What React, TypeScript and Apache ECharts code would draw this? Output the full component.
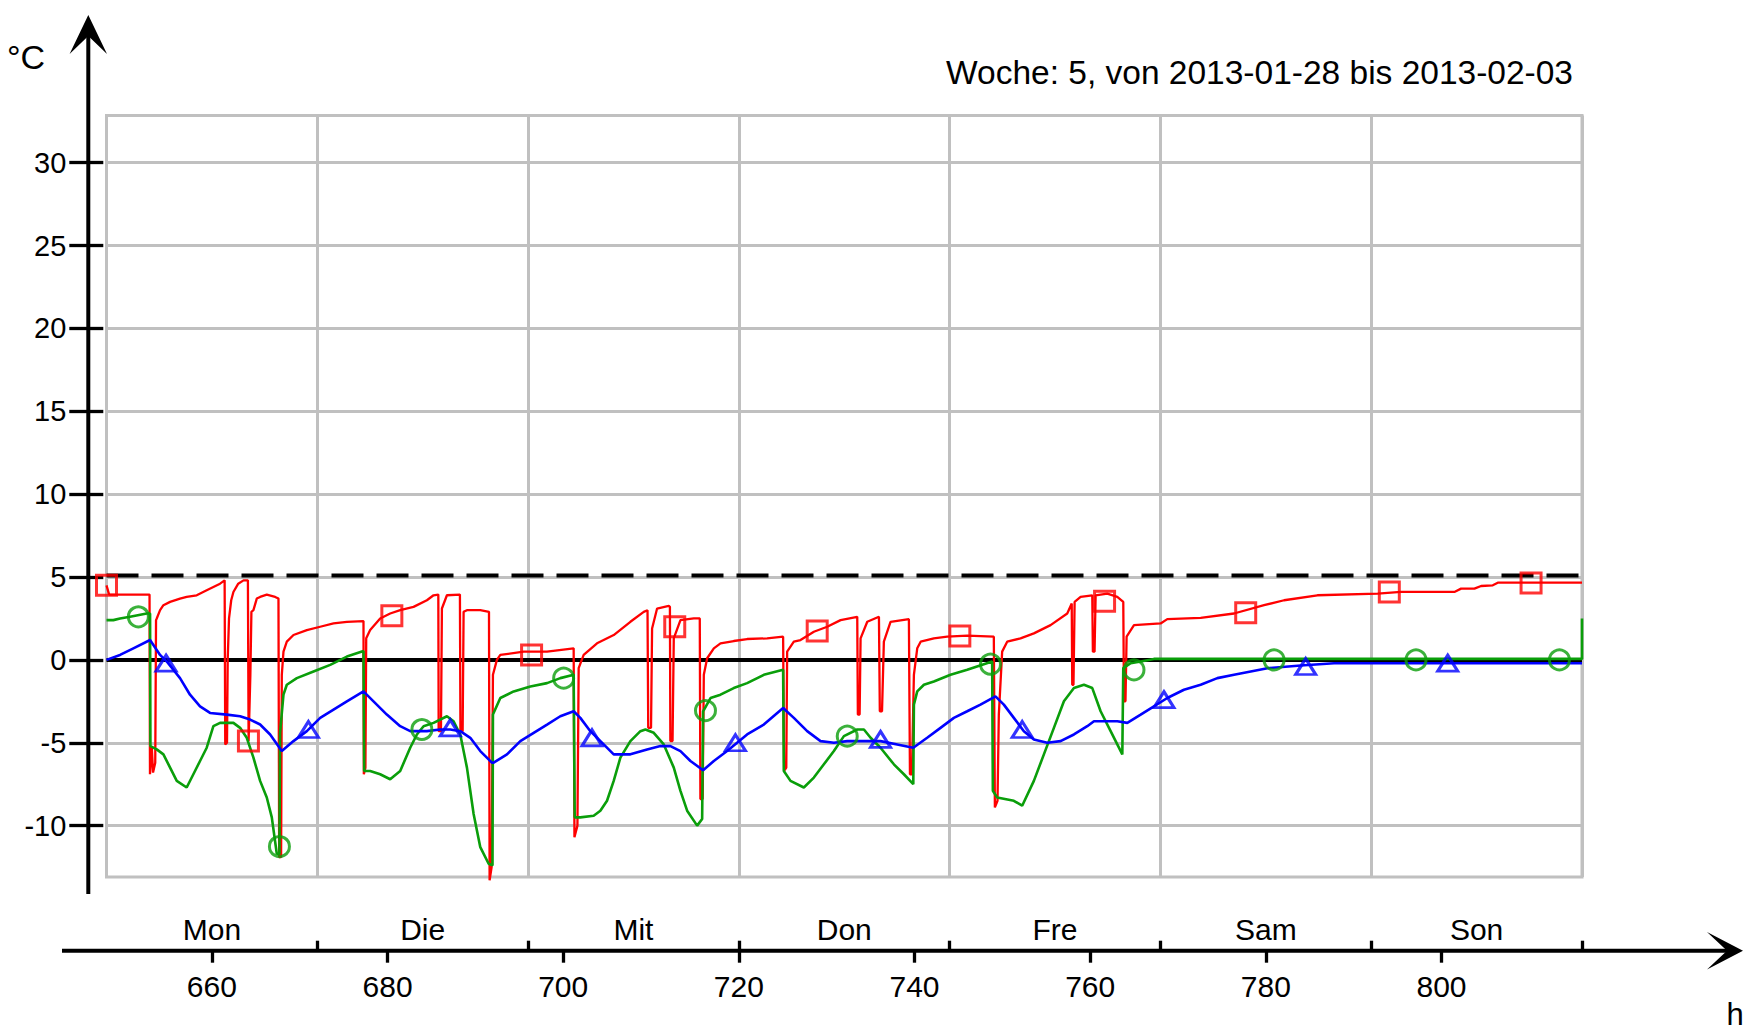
import React, { useEffect, useRef } from "react";
import * as echarts from "echarts";

const TITLE = "Woche: 5, von 2013-01-28 bis 2013-02-03";
const Y_UNIT = "°C";
const X_UNIT = "h";
const hourRange = [648, 816];
const tempMin = -13.1;
const tempMax = 32.85;
const tempTicks = [-10, -5, 0, 5, 10, 15, 20, 25, 30];
const hourTicks = [660, 680, 700, 720, 740, 760, 780, 800];
const dayBoundaries = [672, 696, 720, 744, 768, 792, 816];
const dayCenters = [660, 684, 708, 732, 756, 780, 804];
const dayNames = ["Mon", "Die", "Mit", "Don", "Fre", "Sam", "Son"];
const zeroLevel = 0;
const limitLevel = 5.1;

const redSeries: number[][] = [
  [648.0, 4.5], [648.3, 3.94], [652.9, 3.94], [652.95, -6.9], [653.15, -5.2], [653.3, -6.8], [653.55, -6.2],
  [653.64, 2.4], [653.72, 2.5], [654.1, 3.0], [654.48, 3.3], [655.24, 3.5], [656.37, 3.7], [657.13, 3.8],
  [658.27, 3.9], [659.41, 4.2], [660.17, 4.4], [660.93, 4.6], [661.45, 4.8], [661.52, -5.1], [661.72, -5.0],
  [661.8, 0.0], [661.95, 2.5], [662.2, 3.6], [662.45, 4.1], [663.0, 4.6], [663.6, 4.8], [664.1, 4.8],
  [664.18, -4.9], [664.38, -0.9], [664.5, 2.9], [664.73, 3.0], [665.11, 3.7], [665.49, 3.8], [666.25, 3.94],
  [667.2, 3.8], [667.58, 3.7], [667.66, -11.9], [667.88, -11.9], [667.96, -0.9], [668.15, 0.5], [668.53, 1.1],
  [669.29, 1.5], [670.81, 1.8], [672.33, 2.0], [673.85, 2.2], [675.37, 2.3], [677.26, 2.34], [677.3, -6.9],
  [677.48, -6.5], [677.57, 1.3], [678.02, 1.8], [679.16, 2.5], [680.3, 2.8], [681.44, 3.0], [682.96, 3.2],
  [684.48, 3.6], [685.24, 3.9], [685.78, 3.94], [685.82, -4.3], [686.08, -4.3], [686.19, 3.1], [686.76, 3.9],
  [688.24, 3.94], [688.3, -4.3], [688.55, -4.3], [688.66, 2.9], [689.04, 3.0], [690.56, 3.0], [691.55, 2.9],
  [691.62, -13.3], [691.85, -12.5], [692.0, -0.9], [692.45, 0.0], [692.84, 0.3], [695.5, 0.5], [698.16, 0.5],
  [701.19, 0.7], [701.28, -10.7], [701.62, -10.0], [701.76, -0.5], [702.33, 0.3], [703.85, 1.0], [705.75, 1.5],
  [707.65, 2.3], [709.17, 2.9], [709.6, 3.0], [709.68, -4.1], [710.0, -4.1], [710.12, 1.9], [710.69, 3.1],
  [712.02, 3.26], [712.15, 3.2], [712.2, -4.9], [712.45, -4.9], [712.59, 1.3], [713.35, 2.4], [714.87, 2.5],
  [715.55, 2.5], [715.62, -8.4], [715.88, -8.4], [716.01, -0.9], [716.39, 0.1], [717.15, 0.7], [717.91, 1.0],
  [719.42, 1.14], [720.94, 1.26], [723.22, 1.3], [725.04, 1.4], [725.15, -6.7], [725.4, -6.5], [725.5, 0.5],
  [726.26, 1.1], [727.02, 1.2], [728.54, 1.7], [730.06, 2.0], [731.58, 2.4], [733.48, 2.6], [733.55, -3.3],
  [733.75, -3.3], [733.86, 1.3], [734.62, 2.3], [735.95, 2.6], [736.05, -3.1], [736.3, -3.1], [736.51, 1.1],
  [737.27, 2.3], [739.36, 2.46], [739.48, -6.9], [739.7, -6.9], [739.93, -0.9], [740.31, 0.7], [740.7, 1.1],
  [742.2, 1.3], [743.72, 1.4], [746.0, 1.46], [749.03, 1.4], [749.15, -8.9], [749.45, -8.5], [749.6, -3.3],
  [749.98, 0.5], [750.55, 1.1], [752.07, 1.3], [753.59, 1.6], [755.49, 2.1], [757.39, 2.8], [757.9, 3.4],
  [757.96, -1.5], [758.1, -1.5], [758.23, 3.5], [758.91, 3.8], [760.24, 3.9], [760.31, 0.5], [760.5, 0.5],
  [760.62, 3.9], [761.95, 4.0], [763.09, 3.8], [763.77, 3.5], [763.85, -2.5], [764.02, -2.5], [764.15, 1.4],
  [764.99, 2.1], [768.02, 2.2], [768.78, 2.46], [772.58, 2.54], [776.38, 2.8], [779.8, 3.3], [782.08, 3.6],
  [785.87, 3.9], [792.74, 4.0], [795.39, 4.1], [801.47, 4.1], [802.23, 4.3], [803.75, 4.3], [804.51, 4.46],
  [805.84, 4.5], [806.41, 4.66], [816.0, 4.66],
];

const greenSeries: number[][] = [
  [648.0, 2.4], [648.78, 2.4], [649.54, 2.5], [650.68, 2.6], [652.58, 2.8], [652.96, 2.8], [653.0, -5.2],
  [653.72, -5.4], [654.48, -5.7], [655.24, -6.5], [656.0, -7.3], [657.13, -7.7], [657.89, -6.9], [658.65, -6.1],
  [659.41, -5.3], [660.17, -4.0], [660.93, -3.8], [662.45, -3.8], [663.21, -4.1], [663.97, -4.7], [664.73, -5.9],
  [665.49, -7.3], [666.25, -8.3], [666.82, -9.5], [667.39, -11.7], [667.69, -11.7], [667.76, -4.4], [668.15, -2.1],
  [668.53, -1.5], [669.67, -1.1], [671.57, -0.7], [673.47, -0.3], [675.37, 0.2], [677.26, 0.54], [677.34, -6.7],
  [678.02, -6.7], [679.16, -6.9], [680.3, -7.2], [681.44, -6.7], [682.58, -5.3], [683.34, -4.5], [684.1, -4.0],
  [685.24, -3.8], [686.76, -3.4], [687.52, -3.7], [688.28, -4.5], [689.04, -6.5], [689.8, -9.3], [690.56, -11.3],
  [691.51, -12.3], [691.95, -12.4], [692.0, -3.3], [692.84, -2.3], [694.36, -1.9], [696.26, -1.6], [698.16, -1.4],
  [699.67, -1.1], [701.19, -0.9], [701.31, -9.5], [701.95, -9.5], [703.47, -9.4], [704.23, -9.1], [704.99, -8.5],
  [705.75, -7.3], [706.51, -5.9], [707.65, -4.9], [708.79, -4.3], [709.36, -4.2], [710.31, -4.4], [711.45, -5.1],
  [712.59, -6.5], [713.35, -7.9], [714.11, -9.1], [715.25, -10.0], [715.82, -9.6], [715.93, -3.1], [716.77, -2.3],
  [717.91, -2.1], [719.42, -1.7], [720.94, -1.4], [722.84, -0.9], [725.04, -0.6], [725.12, -6.7], [725.88, -7.3],
  [727.4, -7.7], [728.54, -7.1], [729.68, -6.3], [730.82, -5.5], [731.96, -4.6], [733.48, -4.2], [734.24, -4.2],
  [735.0, -4.7], [736.13, -5.3], [737.65, -6.3], [738.79, -6.9], [739.86, -7.5], [739.93, -2.7], [740.31, -1.9],
  [741.07, -1.5], [742.2, -1.3], [744.1, -0.9], [746.0, -0.6], [747.89, -0.26], [748.84, -0.1], [748.92, -7.9],
  [749.41, -8.3], [751.31, -8.5], [752.26, -8.8], [753.59, -7.3], [754.73, -5.7], [755.87, -4.1], [757.01, -2.5],
  [758.15, -1.7], [759.29, -1.5], [760.24, -1.7], [761.19, -3.1], [762.33, -4.3], [763.66, -5.7], [763.77, -0.5],
  [764.61, -0.2], [765.75, -0.1], [767.26, 0.06], [816.0, 0.06], [816.0, 2.5],
];

const blueSeries: number[][] = [
  [648.0, 0.0], [649.54, 0.3], [651.06, 0.7], [652.96, 1.2], [654.1, 0.3], [654.86, -0.1], [656.37, -1.1],
  [657.51, -2.1], [658.65, -2.8], [659.79, -3.2], [661.69, -3.3], [663.21, -3.4], [664.35, -3.6], [665.49, -3.9],
  [666.63, -4.5], [667.96, -5.5], [669.29, -4.9], [670.81, -4.3], [672.33, -3.5], [673.85, -3.0], [675.37, -2.5],
  [677.26, -1.9], [678.4, -2.5], [679.92, -3.3], [681.44, -4.0], [682.58, -4.3], [684.48, -4.3], [686.0, -4.2],
  [687.14, -4.2], [688.28, -4.3], [689.42, -4.7], [690.56, -5.5], [691.88, -6.2], [692.08, -6.2], [693.6, -5.7],
  [695.12, -4.9], [696.64, -4.4], [698.16, -3.9], [699.67, -3.4], [701.19, -3.1], [701.95, -3.5], [703.09, -4.3],
  [704.61, -5.1], [705.75, -5.7], [707.65, -5.7], [709.55, -5.4], [711.07, -5.2], [712.21, -5.2], [713.35, -5.5],
  [714.49, -6.1], [715.93, -6.66], [717.15, -6.1], [718.66, -5.5], [720.94, -4.5], [722.84, -3.9], [725.04, -2.9],
  [726.26, -3.5], [727.78, -4.3], [729.3, -4.9], [730.82, -5.0], [732.34, -4.9], [736.13, -4.9], [738.03, -5.1],
  [739.86, -5.3], [741.44, -4.7], [742.96, -4.1], [744.48, -3.5], [746.0, -3.1], [747.51, -2.7], [749.22, -2.2],
  [750.17, -2.7], [751.31, -3.5], [752.45, -4.3], [753.59, -4.8], [755.11, -5.0], [756.63, -4.9], [758.15, -4.5],
  [759.67, -4.0], [760.43, -3.7], [763.09, -3.7], [764.23, -3.8], [765.75, -3.3], [767.26, -2.8], [768.78, -2.3],
  [770.68, -1.8], [772.58, -1.5], [774.48, -1.1], [776.38, -0.9], [778.28, -0.7], [780.18, -0.5], [783.98, -0.34],
  [787.77, -0.2], [816.0, -0.2],
];

const redMarkers: number[][] = [
  [648.0, 4.5], [664.16, -4.9], [680.49, 2.66], [696.4, 0.3], [712.7, 2.0], [728.92, 1.74],
  [745.16, 1.44], [761.64, 3.54], [777.71, 2.84], [794.06, 4.1], [810.2, 4.64],
];
const greenMarkers: number[][] = [
  [651.63, 2.6], [667.69, -11.26], [683.91, -4.2], [700.05, -1.1], [716.2, -3.06], [732.34, -4.6],
  [748.65, -0.26], [764.99, -0.6], [780.94, 0.0], [797.1, 0.0], [813.43, 0.0],
];
const blueMarkers: number[][] = [
  [654.78, -0.2], [670.99, -4.2], [687.14, -4.1], [703.28, -4.7], [719.61, -5.0], [736.13, -4.8],
  [752.26, -4.2], [768.4, -2.4], [784.54, -0.4], [800.71, -0.2],
];

const RED = "#ff0000";
const GREEN = "#0a9e0a";
const BLUE = "#0000ff";
const GRID_GRAY = "#c0c0c0";
const FONT = "'Liberation Sans', Arial, Helvetica, sans-serif";

export default function App() {
  const ref = useRef<HTMLDivElement>(null);

  useEffect(() => {
    document.body.style.margin = "0";
    if (!ref.current) return;
    const chart = echarts.init(ref.current, undefined, { renderer: "svg" });

    const tickLine = { color: "#000", width: 3.3 };

    const option: any = {
      animation: false,
      backgroundColor: "#ffffff",
      textStyle: { fontFamily: FONT },
      title: {
        text: TITLE,
        right: 180,
        top: 50,
        textStyle: { fontSize: 33.5, fontWeight: "normal", color: "#000", fontFamily: FONT },
      },
      grid: {
        left: 106.5,
        top: 115.5,
        width: 1475.5,
        height: 761.5,
        show: true,
        borderColor: GRID_GRAY,
        borderWidth: 3,
        backgroundColor: "#ffffff",
        containLabel: false,
        outerBoundsMode: "none",
      },
      xAxis: [
        {
          type: "value",
          min: hourRange[0],
          max: hourRange[1],
          position: "bottom",
          offset: 73.7,
          axisLine: { show: false, onZero: false },
          axisTick: { show: true, inside: false, length: 12, lineStyle: tickLine, customValues: hourTicks },
          axisLabel: { customValues: hourTicks, margin: 21, fontSize: 30, color: "#000", fontFamily: FONT },
          splitLine: { show: false },
        },
        {
          type: "value",
          min: hourRange[0],
          max: hourRange[1],
          position: "bottom",
          offset: 73.7,
          axisLine: { show: false, onZero: false },
          axisTick: { show: true, inside: true, length: 10, lineStyle: tickLine, customValues: dayBoundaries },
          axisLabel: {
            inside: true,
            customValues: dayCenters,
            margin: 6,
            fontSize: 30,
            color: "#000",
            fontFamily: FONT,
            formatter: (v: number) => dayNames[dayCenters.indexOf(Math.round(v))] ?? "",
          },
          splitLine: { show: true, lineStyle: { color: GRID_GRAY, width: 3 } },
        },
      ],
      yAxis: [
        {
          type: "value",
          min: tempMin,
          max: tempMax,
          position: "left",
          offset: 18.2,
          axisLine: { show: false, onZero: false },
          axisTick: { show: true, inside: false, length: 19, lineStyle: tickLine, customValues: tempTicks },
          axisLabel: { customValues: tempTicks, margin: 22, fontSize: 29, color: "#000", fontFamily: FONT },
          splitLine: { show: true, lineStyle: { color: GRID_GRAY, width: 3 } },
        },
        {
          type: "value",
          min: tempMin,
          max: tempMax,
          position: "left",
          offset: 18.2,
          axisLine: { show: false, onZero: false },
          axisTick: { show: true, inside: true, length: 15, lineStyle: tickLine, customValues: tempTicks },
          axisLabel: { show: false },
          splitLine: { show: false },
        },
      ],
      graphic: [
        { type: "line", shape: { x1: 88.3, y1: 894, x2: 88.3, y2: 34 }, style: { stroke: "#000", lineWidth: 4 }, z: 10 },
        { type: "polygon", shape: { points: [[88.3, 15], [107, 54], [88.3, 36], [69.6, 54]] }, style: { fill: "#000" }, z: 10 },
        { type: "line", shape: { x1: 62, y1: 950.7, x2: 1728, y2: 950.7 }, style: { stroke: "#000", lineWidth: 4 }, z: 10 },
        { type: "polygon", shape: { points: [[1743, 950.7], [1707, 932], [1727, 950.7], [1707, 969.4]] }, style: { fill: "#000" }, z: 10 },
        {
          type: "text",
          x: 26,
          y: 57,
          style: { text: Y_UNIT, fontSize: 34, fill: "#000", fontFamily: FONT, textAlign: "center", textVerticalAlign: "middle" },
          z: 10,
        },
        {
          type: "text",
          x: 1735,
          y: 1014,
          style: { text: X_UNIT, fontSize: 31, fill: "#000", fontFamily: FONT, textAlign: "center", textVerticalAlign: "middle" },
          z: 10,
        },
      ],
      series: [
        {
          name: "zero",
          type: "line",
          data: hourRange.map((h) => [h, zeroLevel]),
          symbol: "none",
          silent: true,
          lineStyle: { color: "#000", width: 4 },
          z: 2,
        },
        {
          name: "limit",
          type: "line",
          data: hourRange.map((h) => [h, limitLevel]),
          symbol: "none",
          silent: true,
          lineStyle: { color: "#000", width: 4, type: [32, 13] },
          z: 2,
        },
        {
          name: "red",
          type: "line",
          data: redSeries,
          symbol: "none",
          clip: false,
          lineStyle: { color: RED, width: 2.3 },
          z: 3,
        },
        {
          name: "green",
          type: "line",
          data: greenSeries,
          symbol: "none",
          clip: false,
          lineStyle: { color: GREEN, width: 2.6 },
          z: 4,
        },
        {
          name: "blue",
          type: "line",
          data: blueSeries,
          symbol: "none",
          clip: false,
          lineStyle: { color: BLUE, width: 2.6 },
          z: 5,
        },
        {
          name: "redMarkers",
          type: "scatter",
          data: redMarkers,
          symbol: "rect",
          symbolSize: 20,
          itemStyle: { color: "rgba(255,255,255,0)", borderColor: RED, borderWidth: 3 },
          z: 6,
        },
        {
          name: "greenMarkers",
          type: "scatter",
          data: greenMarkers,
          symbol: "circle",
          symbolSize: 20,
          itemStyle: { color: "rgba(255,255,255,0)", borderColor: GREEN, borderWidth: 3 },
          z: 6,
        },
        {
          name: "blueMarkers",
          type: "scatter",
          data: blueMarkers,
          symbol: "triangle",
          symbolSize: [20, 16],
          itemStyle: { color: "rgba(255,255,255,0)", borderColor: BLUE, borderWidth: 3 },
          z: 6,
        },
      ],
    };

    chart.setOption(option);
    return () => {
      chart.dispose();
    };
  }, []);

  return <div ref={ref} style={{ width: 1758, height: 1031 }} />;
}
